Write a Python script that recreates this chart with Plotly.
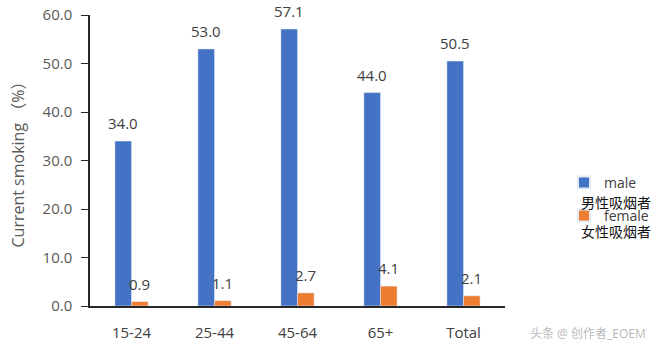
import plotly.graph_objects as go

categories = ["15-24", "25-44", "45-64", "65+", "Total"]
male = [34.0, 53.0, 57.1, 44.0, 50.5]
female = [0.9, 1.1, 2.7, 4.1, 2.1]
y_ticks = [0, 10, 20, 30, 40, 50, 60]

FONT = "Open Sans, Liberation Sans, Noto Sans CJK SC, sans-serif"
TXT = "#404040"

L, R, T, B = 90, 155, 15, 46
W, H = 660, 352
PW, PH = W - L - R, H - T - B
BARGAP = 0.6
bar_w = PW / len(categories) * (1 - BARGAP) / 2


def px(xp):
    return (xp - L) / PW


def py(yp):
    return (H - B - yp) / PH


fig = go.Figure()
fig.add_trace(go.Bar(
    x=categories, y=male, name="male", marker_color="#4472C4", legend="legend",
))
fig.add_trace(go.Bar(
    x=categories, y=female, name="female", marker_color="#ED7D31", legend="legend2",
))

for series, shift in ((male, -bar_w / 2), (female, bar_w / 2)):
    for c, v in zip(categories, series):
        fig.add_annotation(
            x=c, y=v, xref="x", yref="y", text=f"{v:.1f}", showarrow=False,
            xanchor="center", yanchor="bottom", xshift=shift, yshift=6,
            font=dict(size=15, color=TXT, family=FONT),
        )

leg_common = dict(
    xanchor="left", yanchor="middle", font=dict(size=14, color="#404040", family=FONT),
    bgcolor="rgba(0,0,0,0)", itemwidth=30, itemsizing="constant",
)
fig.update_layout(
    width=W, height=H,
    margin=dict(l=L, r=R, t=T, b=B, autoexpand=False),
    paper_bgcolor="white", plot_bgcolor="white",
    barmode="group", bargap=BARGAP, bargroupgap=0,
    font=dict(family=FONT, color="#595959"),
    showlegend=True,
    legend=dict(x=px(564), y=py(183), **leg_common),
    legend2=dict(x=px(564), y=py(216), **leg_common),
    xaxis=dict(
        showline=True, linecolor="#262626", linewidth=1.5,
        ticks="", tickfont=dict(size=15, color="#404040"),
        ticklabelstandoff=12, showgrid=False,
    ),
    yaxis=dict(
        range=[0, 60], tickvals=y_ticks, tickformat=".1f",
        showline=True, linecolor="#262626", linewidth=1.5,
        ticks="outside", ticklen=7, tickcolor="#262626",
        tickfont=dict(size=15, color="#595959"),
        ticklabelstandoff=6, showgrid=False, zeroline=False,
        title=dict(text="Current smoking （%）", font=dict(size=16, color="#595959"), standoff=14),
    ),
)

for label, ypix in (("男性吸烟者", 202), ("女性吸烟者", 231)):
    fig.add_annotation(
        text=label, xref="paper", yref="paper", x=px(579), y=py(ypix),
        xanchor="left", yanchor="middle", showarrow=False,
        font=dict(size=14, color="#111111", family="Noto Sans CJK SC, sans-serif"),
    )

fig.add_annotation(
    text="头条 @ 创作者_EOEM", xref="paper", yref="paper",
    x=px(648), y=py(333), xanchor="right", yanchor="middle", showarrow=False,
    font=dict(size=12, color="rgba(150,150,150,0.7)", family=FONT),
)

fig.write_html("out.html")
